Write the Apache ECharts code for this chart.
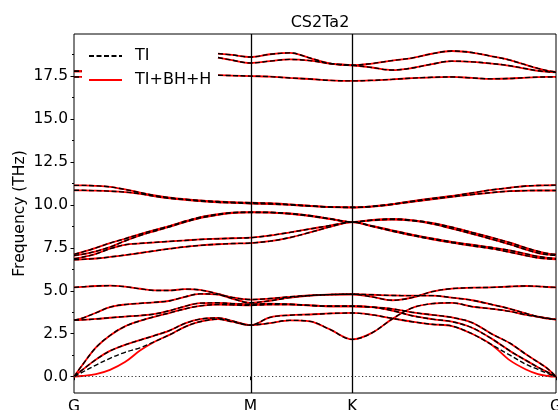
<!DOCTYPE html>
<html><head><meta charset="utf-8">
<script src="https://cdn.jsdelivr.net/npm/echarts@6/dist/echarts.min.js"></script>
<style>html,body{margin:0;padding:0;background:#fff}#c{width:558px;height:410px}</style>
</head><body><div id="c"></div>
<script>
// k-path distance (G-M-K-G, hexagonal)
const kpoints = [0, 0.0262, 0.0720, 0.1178, 0.1669, 0.2160, 0.2651, 0.3141, 0.3632, 0.4123, 0.4712, 0.5170, 0.5774,
  0.6414, 0.7068, 0.7723, 0.8377, 0.9107,
  0.9751, 1.0406, 1.1060, 1.1715, 1.2369, 1.3024, 1.3678, 1.4267, 1.4791, 1.5183, 1.5511, 1.5774];
const kTicks = [0, 0.5774, 0.9107, 1.5774];
const kLabels = ['G', 'M', 'K', 'G'];
const yTicks = [0, 2.5, 5, 7.5, 10, 12.5, 15, 17.5];
const yMinorTicks = [1.25, 3.75, 6.25, 8.75, 11.25, 13.75, 16.25, 18.75];
const chartTitle = 'CS2Ta2';
const seriesNames = ['TI', 'TI+BH+H'];

// TI bands (THz)
const band01 = [0, 0.25, 0.68, 1.07, 1.42, 1.68, 2.05, 2.45, 2.9, 3.2, 3.35, 3.2, 3.0,
  3.12, 3.28, 3.22, 2.75, 2.17,
  2.55, 3.35, 4.0, 4.25, 4.3, 4.08, 3.95, 3.8, 3.6, 3.48, 3.38, 3.33];
const band02 = [0, 0.38, 1.0, 1.5, 1.85, 2.13, 2.4, 2.7, 3.1, 3.35, 3.42, 3.25, 3.0,
  3.45, 3.58, 3.62, 3.68, 3.71,
  3.6, 3.4, 3.2, 3.05, 2.95, 2.5, 1.85, 1.25, 0.72, 0.42, 0.18, 0];
const band03 = [0, 0.65, 1.7, 2.4, 2.93, 3.25, 3.5, 3.72, 3.95, 4.12, 4.2, 4.18, 4.15,
  4.2, 4.2, 4.15, 4.1, 4.1,
  4.05, 3.85, 3.55, 3.35, 3.2, 2.85, 2.2, 1.5, 0.95, 0.55, 0.25, 0];
const band04 = [3.29, 3.31, 3.36, 3.43, 3.5, 3.56, 3.65, 3.85, 4.1, 4.28, 4.3, 4.25, 4.22,
  4.25, 4.22, 4.15, 4.1, 4.1,
  4.05, 3.95, 3.75, 3.6, 3.45, 3.15, 2.48, 1.95, 1.3, 0.85, 0.45, 0];
const band05 = [3.29, 3.4, 3.72, 4.05, 4.2, 4.27, 4.33, 4.42, 4.65, 4.82, 4.78, 4.55, 4.3,
  4.42, 4.6, 4.72, 4.78, 4.8,
  4.77, 4.73, 4.72, 4.72, 4.6, 4.45, 4.2, 3.95, 3.68, 3.5, 3.4, 3.33];
const band06 = [5.2, 5.23, 5.28, 5.3, 5.24, 5.12, 5.02, 5.02, 5.1, 5.05, 4.82, 4.62, 4.49,
  4.55, 4.65, 4.73, 4.78, 4.8,
  4.65, 4.45, 4.6, 4.95, 5.13, 5.18, 5.2, 5.25, 5.28, 5.26, 5.22, 5.2];
const band07 = [6.81, 6.83, 6.88, 6.97, 7.08, 7.2, 7.33, 7.45, 7.56, 7.64, 7.71, 7.75, 7.78,
  7.89, 8.1, 8.4, 8.72, 9.0,
  8.75, 8.48, 8.22, 8.0, 7.8, 7.62, 7.45, 7.25, 7.05, 6.92, 6.86, 6.83];
const band08 = [6.87, 6.95, 7.15, 7.45, 7.68, 7.76, 7.82, 7.88, 7.93, 7.99, 8.03, 8.06, 8.09,
  8.22, 8.4, 8.6, 8.8, 9.0,
  8.78, 8.52, 8.27, 8.05, 7.85, 7.68, 7.52, 7.35, 7.15, 7.0, 6.92, 6.88];
const band09 = [7.05, 7.12, 7.3, 7.55, 7.9, 8.22, 8.48, 8.73, 9.0, 9.23, 9.42, 9.53, 9.56,
  9.55, 9.48, 9.35, 9.18, 9.0,
  9.1, 9.15, 9.08, 8.9, 8.62, 8.32, 8.0, 7.7, 7.4, 7.2, 7.1, 7.06];
const band10 = [7.12, 7.25, 7.5, 7.78, 8.03, 8.3, 8.55, 8.78, 9.05, 9.28, 9.46, 9.55, 9.58,
  9.57, 9.5, 9.38, 9.2, 9.0,
  9.12, 9.18, 9.12, 8.95, 8.7, 8.4, 8.1, 7.8, 7.5, 7.3, 7.17, 7.12];
const band11 = [10.85, 10.85, 10.83, 10.8, 10.75, 10.65, 10.5, 10.38, 10.3, 10.22, 10.15, 10.12, 10.08,
  10.05, 10.0, 9.93, 9.87, 9.85,
  9.9, 10.02, 10.18, 10.33, 10.47, 10.6, 10.72, 10.8, 10.83, 10.84, 10.84, 10.84];
const band12 = [11.14, 11.14, 11.11, 11.05, 10.9, 10.72, 10.55, 10.42, 10.33, 10.26, 10.2, 10.16, 10.13,
  10.1, 10.03, 9.95, 9.88, 9.86,
  9.92, 10.05, 10.22, 10.38, 10.52, 10.7, 10.88, 11.0, 11.1, 11.13, 11.14, 11.15];
// upper optical bands leave the plotted window between G and M (null = off scale)
const band13 = [17.45, 17.45, null, null, null, null, null, null, null, null, 17.55, 17.53, 17.5,
  17.47, 17.39, 17.33, 17.25, 17.22,
  17.25, 17.31, 17.38, 17.43, 17.45, 17.39, 17.34, 17.36, 17.41, 17.44, 17.45, 17.45];
const band14 = [17.78, 17.78, null, null, null, null, null, null, null, null, 18.58, 18.43, 18.26,
  18.37, 18.47, 18.4, 18.23, 18.13,
  18.0, 17.85, 17.97, 18.2, 18.37, 18.33, 18.23, 18.1, 17.93, 17.81, 17.75, 17.72];
const band15 = [17.78, 17.78, null, null, null, null, null, null, null, null, 18.81, 18.73, 18.61,
  18.77, 18.85, 18.55, 18.23, 18.13,
  18.23, 18.4, 18.55, 18.8, 18.96, 18.87, 18.65, 18.43, 18.15, 17.95, 17.81, 17.74];

// TI+BH+H: differs only in the lowest acoustic branches near G
const band01_BH = [0, 0.04, 0.15, 0.4, 0.85, 1.52, 2.05, 2.45, 2.9, 3.2, 3.35, 3.2, 3.0,
  3.12, 3.28, 3.22, 2.75, 2.17,
  2.55, 3.35, 4.0, 4.25, 4.3, 4.08, 3.95, 3.8, 3.6, 3.48, 3.38, 3.33];
const band02_BH = [0, 0.38, 1.0, 1.5, 1.85, 2.13, 2.4, 2.7, 3.1, 3.35, 3.42, 3.25, 3.0,
  3.45, 3.58, 3.62, 3.68, 3.71,
  3.6, 3.4, 3.2, 3.05, 2.95, 2.5, 1.85, 0.95, 0.42, 0.15, 0.04, 0];

const bandsTI = [band01, band02, band03, band04, band05, band06, band07, band08, band09, band10, band11, band12, band13, band14, band15];
const bandsBH = [band01_BH, band02_BH, band03, band04, band05, band06, band07, band08, band09, band10, band11, band12, band13, band14, band15];

const FONT = 'DejaVu Sans';
const pairs = arr => kpoints.map((k, i) => [k, arr[i]]);

const series = [];
bandsBH.forEach((b, i) => series.push({
  name: seriesNames[1], type: 'line', data: pairs(b), smooth: 0.35, symbol: 'none', showSymbol: false,
  connectNulls: false, clip: true, silent: true, z: 2,
  lineStyle: { color: '#ff0000', width: 1.8, type: 'solid' },
  itemStyle: { color: '#ff0000' }
}));
bandsTI.forEach((b, i) => series.push({
  name: seriesNames[0], type: 'line', data: pairs(b), smooth: 0.35, symbol: 'none', showSymbol: false,
  connectNulls: false, clip: true, silent: true, z: 3,
  lineStyle: { color: '#000000', width: 1.4, type: [5, 2.5] },
  itemStyle: { color: '#000000' }
}));
// reference lines: high-symmetry verticals and zero line
series.push({
  type: 'line', data: [], silent: true, z: 1,
  markLine: {
    silent: true, symbol: ['none', 'none'], label: { show: false }, animation: false,
    data: [
      { xAxis: kTicks[1], lineStyle: { color: '#000', width: 1.3, type: 'solid' } },
      { xAxis: kTicks[2], lineStyle: { color: '#000', width: 1.3, type: 'solid' } },
      { yAxis: 0, lineStyle: { color: '#333', width: 1, type: [1.2, 2.4] } }
    ]
  }
});

const chart = echarts.init(document.getElementById('c'), null, { renderer: 'canvas' });
chart.setOption({
  animation: false,
  backgroundColor: '#fff',
  title: {
    text: chartTitle, left: 315, top: 10, textAlign: 'center',
    textStyle: { fontFamily: FONT, fontSize: 16, fontWeight: 'normal', color: '#000' }
  },
  legend: {
    data: seriesNames, orient: 'vertical', left: 88, top: 48, padding: 0,
    itemWidth: 33, itemHeight: 14, itemGap: 8, selectedMode: false,
    itemStyle: { color: 'transparent', borderColor: 'transparent', borderWidth: 0 },
    textStyle: { fontFamily: FONT, fontSize: 16, color: '#000', padding: [0, 0, 0, 8] }
  },
  grid: { left: 74, right: 2, top: 34, bottom: 17, outerBoundsMode: 'none', containLabel: false,
    show: true, borderColor: '#000', borderWidth: 1, backgroundColor: 'transparent' },
  xAxis: {
    type: 'value', min: kTicks[0], max: kTicks[3],
    axisLine: { show: false },
    splitLine: { show: false },
    axisTick: { show: true, customValues: kTicks, length: 3.5, inside: false, lineStyle: { color: '#000', width: 1 } },
    axisLabel: {
      customValues: kTicks, showMinLabel: true, showMaxLabel: true, margin: 6, hideOverlap: false,
      fontFamily: FONT, fontSize: 15.5, color: '#000',
      formatter: v => { const i = kTicks.findIndex(t => Math.abs(t - v) < 1e-6); return i >= 0 ? kLabels[i] : ''; }
    }
  },
  yAxis: [{
    type: 'value', min: -0.95, max: 19.95,
    name: 'Frequency (THz)', nameLocation: 'middle', nameGap: 46, nameMoveOverlap: false,
    nameTextStyle: { fontFamily: FONT, fontSize: 15.5, color: '#000' },
    axisLine: { show: false },
    splitLine: { show: false },
    axisTick: { show: true, customValues: yTicks, length: 3.5, lineStyle: { color: '#000', width: 1 } },
    axisLabel: { customValues: yTicks, margin: 6, fontFamily: FONT, fontSize: 15.5, color: '#000', formatter: v => v.toFixed(1) }
  }, {
    type: 'value', min: -0.95, max: 19.95, position: 'left',
    axisLine: { show: false }, splitLine: { show: false }, axisLabel: { show: false },
    axisTick: { show: true, customValues: yMinorTicks, length: 2, lineStyle: { color: '#000', width: 1 } }
  }],
  series: series
});
</script></body></html>
